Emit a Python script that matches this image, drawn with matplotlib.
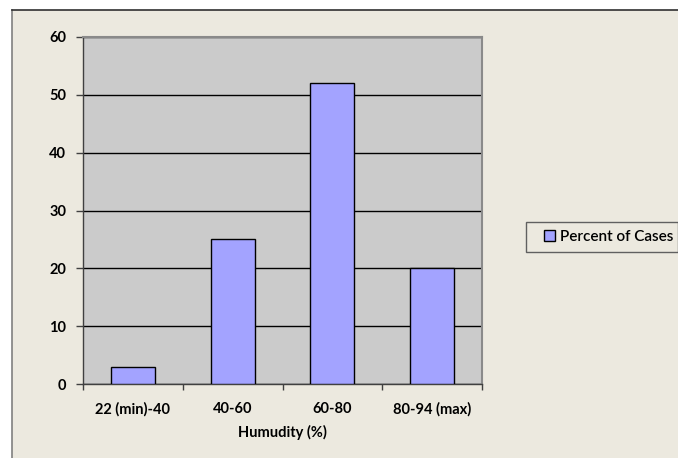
import matplotlib
matplotlib.use("Agg")
import matplotlib.pyplot as plt
from matplotlib.patches import Rectangle
from matplotlib.lines import Line2D
import numpy as np

categories = ["22 (min)-40", "40-60", "60-80", "80-94 (max)"]
percent_of_cases = [3, 25, 52, 20]
y_ticks = [0, 10, 20, 30, 40, 50, 60]
series_name = "Percent of Cases"
x_title = "Humudity (%)"

W, H = 678, 458
fig = plt.figure(figsize=(W / 100, H / 100), dpi=100)
fig.patch.set_facecolor("white")

def fx(px):
    return px / W

def fy(py):
    return 1 - py / H

bg = "#ECE9DF"
# chart area background with frame on top and left
fig.patches.append(Rectangle((fx(12), 0), 1 - fx(12), fy(10), transform=fig.transFigure,
                             facecolor=bg, edgecolor="none", zorder=-10))
fig.lines.append(Line2D([fx(12), fx(12)], [0, fy(10)], transform=fig.transFigure,
                        color="#808080", lw=1.2, zorder=-9))
fig.lines.append(Line2D([fx(12), 1], [fy(10), fy(10)], transform=fig.transFigure,
                        color="#303030", lw=1.2, zorder=-9))

ax = fig.add_axes([fx(83), fy(384), fx(482) - fx(83), fy(37) - fy(384)])
ax.set_facecolor("#CBCBCB")

x = np.arange(len(categories))
bars = ax.bar(x, percent_of_cases, width=0.44, color="#A3A3FF", edgecolor="black",
              linewidth=1.0, zorder=3, label=series_name)

ax.set_xlim(-0.5, len(categories) - 0.5)
ax.set_ylim(0, 60)
ax.set_yticks(y_ticks)
ax.yaxis.grid(True, color="black", lw=1.0, zorder=1)
ax.set_axisbelow(True)

font = "Lato"
fs = 10.5
ax.set_yticklabels([str(v) for v in y_ticks], fontfamily=font, fontweight="bold", fontsize=fs)
ax.set_xticks(x)
ax.set_xticklabels(categories, fontfamily=font, fontweight="bold", fontsize=fs)
ax.set_xticks(np.arange(-0.5, len(categories)), minor=True)
ax.tick_params(axis="x", which="major", length=0, pad=13)
ax.tick_params(axis="x", which="minor", length=4, width=1, color="#404040", direction="out")
ax.tick_params(axis="y", length=5, width=1, color="#404040", direction="out", pad=7)
ax.set_xlabel(x_title, fontfamily=font, fontweight="bold", fontsize=fs, labelpad=6)

for s in ["top", "right"]:
    ax.spines[s].set_color("#8A8A8A")
    ax.spines[s].set_linewidth(1.5)
for s in ["left", "bottom"]:
    ax.spines[s].set_color("#404040")
    ax.spines[s].set_linewidth(1.0)

# legend box
fig.patches.append(Rectangle((fx(526), fy(252)), fx(678) - fx(526), fy(222) - fy(252),
                             transform=fig.transFigure, facecolor=bg,
                             edgecolor="#606060", lw=1.0, zorder=2))
leg = fig.legend(handles=[bars], labels=[series_name], loc="center left",
                 bbox_to_anchor=(fx(544), fy(237)), frameon=False, borderaxespad=0,
                 borderpad=0, handlelength=0.7, handleheight=0.7, handletextpad=0.35,
                 prop={"family": font, "size": 11, "weight": "semibold"})
leg.set_zorder(3)

fig.savefig("out.png", dpi=100, facecolor=fig.get_facecolor())
